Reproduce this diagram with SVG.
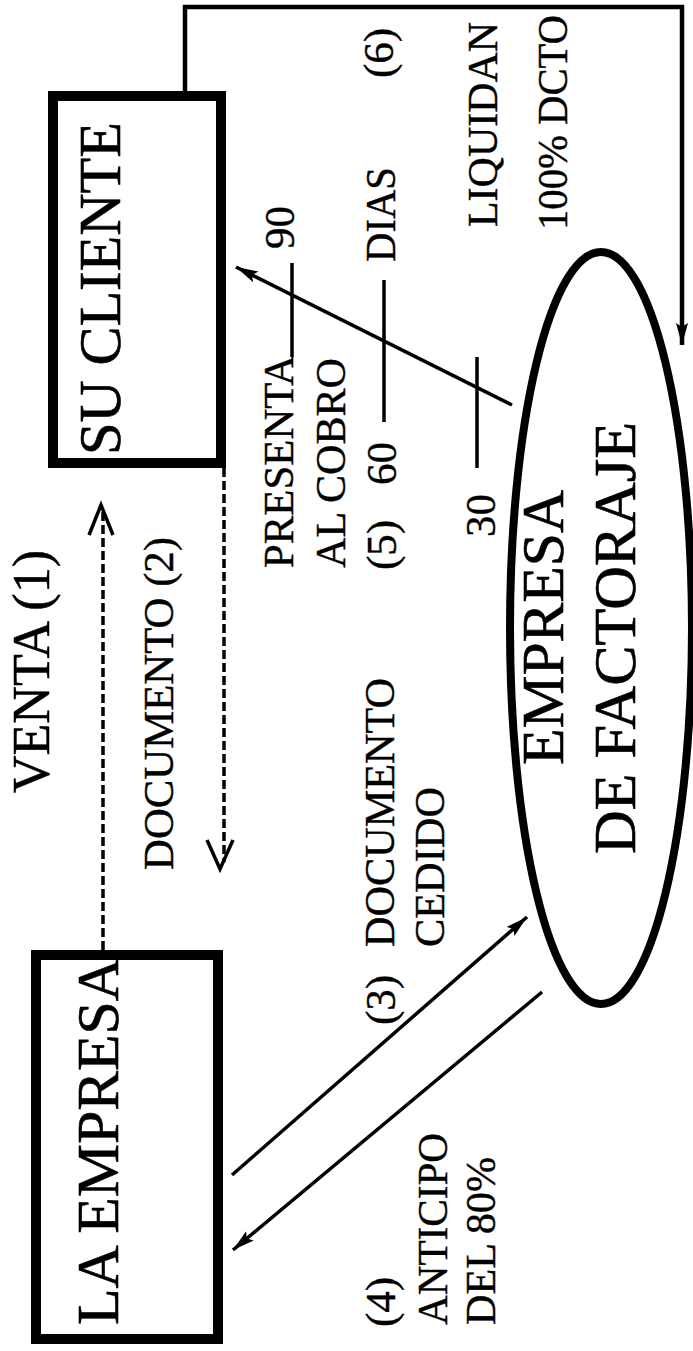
<svg xmlns="http://www.w3.org/2000/svg" width="693" height="1351" viewBox="0 0 693 1351">
  <style>
    .node { fill: none; stroke: #000; stroke-width: 10; }
    .oval { fill: none; stroke: #000; stroke-width: 8; }
    .big { font-family: "Liberation Serif", "Times New Roman", serif; font-size: 60px; fill: #000; stroke: #000; stroke-width: 0.6; }
    .mid { font-family: "Liberation Serif", "Times New Roman", serif; font-size: 52px; fill: #000; stroke: #000; stroke-width: 0.5; }
    .lbl { font-family: "Liberation Serif", "Times New Roman", serif; font-size: 43px; fill: #000; stroke: #000; stroke-width: 0.4; }
    .ln { fill: none; stroke: #000; stroke-width: 3.5; }
    .dash { fill: none; stroke: #000; stroke-width: 3.5; stroke-dasharray: 9 4; }
    .open { fill: none; stroke: #000; stroke-width: 3.5; stroke-linejoin: miter; }
  </style>
  <defs>
    <marker id="ah" markerUnits="userSpaceOnUse" markerWidth="24" markerHeight="14" refX="22" refY="6" orient="auto">
      <path d="M0,0 L22,6 L0,12 L4,6 z" fill="#000"/>
    </marker>
  </defs>
  <rect width="693" height="1351" fill="#fff"/>

  <g id="su-cliente">
    <rect class="node" x="53" y="96" width="168" height="367"/>
    <text class="big" transform="translate(120,455) rotate(-90)" textLength="333" lengthAdjust="spacingAndGlyphs">SU CLIENTE</text>
  </g>

  <g id="la-empresa">
    <rect class="node" x="36" y="955" width="182" height="384"/>
    <text class="big" transform="translate(118,1325) rotate(-90)" textLength="367" lengthAdjust="spacingAndGlyphs">LA EMPRESA</text>
  </g>

  <g id="empresa-factoraje">
    <ellipse class="oval" cx="601" cy="628" rx="91" ry="376"/>
    <text class="big" transform="translate(563,765) rotate(-90)" textLength="275" lengthAdjust="spacingAndGlyphs">EMPRESA</text>
    <text class="big" transform="translate(635,854) rotate(-90)" textLength="432" lengthAdjust="spacingAndGlyphs">DE FACTORAJE</text>
  </g>

  <g id="connectors">
    <!-- (1) VENTA -->
    <line class="dash" x1="103" y1="950" x2="103" y2="512"/>
    <polyline class="open" points="89,535 101,505 113,535"/>
    <!-- (2) DOCUMENTO -->
    <line class="dash" x1="224" y1="468" x2="224" y2="862"/>
    <polyline class="open" points="207,840 220,869 233,840"/>
    <!-- (3) documento cedido -->
    <line class="ln" x1="232" y1="1175" x2="527" y2="917" marker-end="url(#ah)"/>
    <!-- (4) anticipo -->
    <line class="ln" x1="542" y1="992" x2="233" y2="1250" marker-end="url(#ah)"/>
    <!-- (5) presenta al cobro -->
    <line class="ln" x1="512" y1="405" x2="236" y2="267" marker-end="url(#ah)"/>
    <line class="ln" x1="292" y1="263" x2="292" y2="357"/>
    <line class="ln" x1="384" y1="280" x2="384" y2="422"/>
    <line class="ln" x1="477" y1="357" x2="477" y2="468"/>
    <!-- (6) liquidan -->
    <path d="M185,96 V7 H682 V345" fill="none" stroke="#000" stroke-width="4.5" marker-end="url(#ah)"/>
  </g>

  <g id="labels">
    <text class="mid" transform="translate(49,793) rotate(-90)" textLength="243" lengthAdjust="spacingAndGlyphs">VENTA (1)</text>
    <text class="lbl" transform="translate(173,870) rotate(-90)" textLength="333" lengthAdjust="spacingAndGlyphs">DOCUMENTO (2)</text>

    <text class="lbl" transform="translate(395,1025) rotate(-90)">(3)</text>
    <text class="lbl" transform="translate(394,947) rotate(-90)" textLength="269" lengthAdjust="spacingAndGlyphs">DOCUMENTO</text>
    <text class="lbl" transform="translate(444,947) rotate(-90)" textLength="160" lengthAdjust="spacingAndGlyphs">CEDIDO</text>

    <text class="lbl" transform="translate(395,1327) rotate(-90)">(4)</text>
    <text class="lbl" transform="translate(447,1325) rotate(-90)" textLength="192" lengthAdjust="spacingAndGlyphs">ANTICIPO</text>
    <text class="lbl" transform="translate(495,1325) rotate(-90)" textLength="168" lengthAdjust="spacingAndGlyphs">DEL 80%</text>

    <text class="lbl" transform="translate(293,568) rotate(-90)" textLength="213" lengthAdjust="spacingAndGlyphs">PRESENTA</text>
    <text class="lbl" transform="translate(294,249) rotate(-90)">90</text>
    <text class="lbl" transform="translate(345,568) rotate(-90)" textLength="210" lengthAdjust="spacingAndGlyphs">AL COBRO</text>
    <text class="lbl" transform="translate(396,570) rotate(-90)">(5)</text>
    <text class="lbl" transform="translate(396,485) rotate(-90)">60</text>
    <text class="lbl" transform="translate(395,262) rotate(-90)" textLength="95" lengthAdjust="spacingAndGlyphs">DIAS</text>
    <text class="lbl" transform="translate(393,78) rotate(-90)">(6)</text>
    <text class="lbl" transform="translate(495,537) rotate(-90)">30</text>
    <text class="lbl" transform="translate(497,227) rotate(-90)" textLength="205" lengthAdjust="spacingAndGlyphs">LIQUIDAN</text>
    <text class="lbl" transform="translate(567,230) rotate(-90)" textLength="215" lengthAdjust="spacingAndGlyphs">100% DCTO</text>
  </g>
</svg>
